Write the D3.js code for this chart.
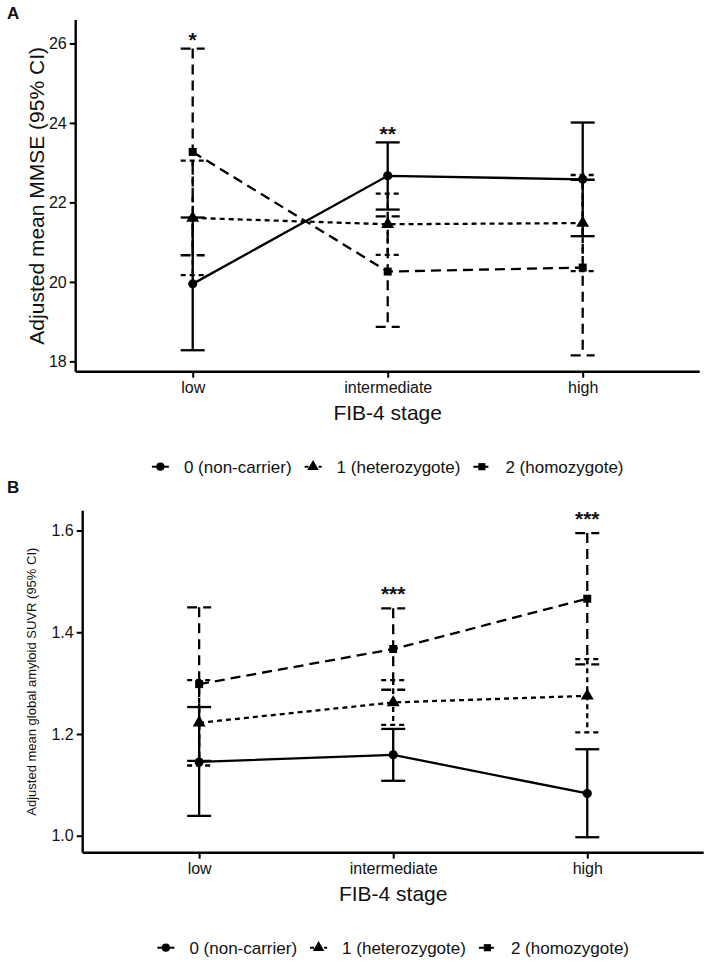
<!DOCTYPE html>
<html>
<head>
<meta charset="utf-8">
<script src="https://cdn.jsdelivr.net/npm/d3@7"></script>
<style>
  body { margin: 0; background: #fff; }
  text { font-family: "Liberation Sans", Arial, sans-serif; fill: #111; }
</style>
</head>
<body>
<script>
const STAGES = ["low", "intermediate", "high"];
const GROUPS = ["0 (non-carrier)", "1 (heterozygote)", "2 (homozygote)"];

// [mean, lower CI, upper CI] per FIB-4 stage
const MMSE_NONCARRIER = [[19.95, 18.28, 21.62], [22.67, 21.82, 23.51], [22.58, 21.15, 24.01]];
const MMSE_HETERO = [[21.61, 20.17, 23.05], [21.45, 20.68, 22.22], [21.48, 20.27, 22.69]];
const MMSE_HOMO = [[23.27, 20.67, 25.87], [20.26, 18.87, 21.65], [20.36, 18.15, 22.57]];
const MMSE_STARS = ["*", "**", ""];
const MMSE_TICKS = [18, 20, 22, 24, 26];

const SUVR_NONCARRIER = [[1.145, 1.039, 1.253], [1.159, 1.108, 1.210], [1.083, 0.997, 1.170]];
const SUVR_HETERO = [[1.222, 1.138, 1.306], [1.262, 1.218, 1.306], [1.275, 1.203, 1.347]];
const SUVR_HOMO = [[1.298, 1.147, 1.449], [1.367, 1.287, 1.447], [1.466, 1.337, 1.595]];
const SUVR_STARS = ["", "***", "***"];
const SUVR_TICKS = [1.0, 1.2, 1.4, 1.6];

// line style per genotype group
const DASH = [null, "5,4", "10,6"];
const SHAPES = [d3.symbolCircle, d3.symbolTriangle, d3.symbolSquare];
const SHAPE_SIZE = [66, 72, 64];

const svg = d3.select("body").append("svg")
    .attr("width", 708).attr("height", 962);

function drawPanel(cfg) {
    const g = svg.append("g");
    const x = d3.scalePoint().domain(STAGES).range([cfg.left, cfg.right]).padding(0.6);
    const y = d3.scaleLinear().domain(cfg.yDomain).range([cfg.bottom, cfg.top]);
    const cap = 12;

    // panel letter
    g.append("text")
        .attr("x", 7).attr("y", cfg.letterY)
        .attr("font-size", 17).attr("font-weight", "bold")
        .text(cfg.letter);

    // lines
    const line = d3.line().x((d, i) => x(STAGES[i])).y(d => y(d[0]));
    cfg.series.forEach((s, k) => {
        g.append("path")
            .datum(s)
            .attr("fill", "none")
            .attr("stroke", "#000")
            .attr("stroke-width", 2.3)
            .attr("stroke-dasharray", DASH[k])
            .attr("d", line);
    });

    // error bars
    cfg.series.forEach((s, k) => {
        s.forEach((d, i) => {
            const cx = x(STAGES[i]);
            const segs = [
                [cx - cap, y(d[2]), cx + cap, y(d[2])],
                [cx, y(d[2]), cx, y(d[1])],
                [cx - cap, y(d[1]), cx + cap, y(d[1])],
            ];
            segs.forEach(p => {
                g.append("line")
                    .attr("x1", p[0]).attr("y1", p[1])
                    .attr("x2", p[2]).attr("y2", p[3])
                    .attr("stroke", "#000")
                    .attr("stroke-width", 2.3)
                    .attr("stroke-dasharray", DASH[k]);
            });
        });
    });

    // points
    cfg.series.forEach((s, k) => {
        g.selectAll(null).data(s).join("path")
            .attr("transform", (d, i) => `translate(${x(STAGES[i])},${y(d[0])})`)
            .attr("d", d3.symbol(SHAPES[k], SHAPE_SIZE[k]))
            .attr("fill", "#000");
    });

    // significance stars
    cfg.stars.forEach((st, i) => {
        if (!st) return;
        const top = d3.max(cfg.series, s => s[i][2]);
        g.append("text")
            .attr("x", x(STAGES[i])).attr("y", y(top) - cfg.starGap + 12)
            .attr("text-anchor", "middle")
            .attr("font-size", 21).attr("font-weight", "bold")
            .text(st);
    });

    // axes
    const yAxis = g.append("g")
        .attr("transform", `translate(${cfg.left},0)`)
        .call(d3.axisLeft(y).tickValues(cfg.ticks).tickSize(6).tickPadding(3)
            .tickFormat(cfg.fmt).tickSizeOuter(0));
    const xAxis = g.append("g")
        .attr("transform", `translate(0,${cfg.bottom})`)
        .call(d3.axisBottom(x).tickSize(6).tickPadding(4).tickSizeOuter(0));
    [yAxis, xAxis].forEach(a => {
        a.select(".domain").attr("stroke", "#000").attr("stroke-width", 2.4);
        a.selectAll(".tick line").attr("stroke", "#000").attr("stroke-width", 2);
        a.selectAll(".tick text")
            .attr("font-family", "Liberation Sans, Arial, sans-serif")
            .attr("font-size", 16).attr("fill", "#111");
    });
    // keep axis line spanning the full panel
    yAxis.select(".domain").attr("d", `M0,${cfg.bottom}V${cfg.top}`);
    xAxis.select(".domain").attr("d", `M${cfg.left},0H${cfg.right}`);

    // axis titles
    g.append("text")
        .attr("x", (cfg.left + cfg.right) / 2).attr("y", cfg.bottom + 48)
        .attr("text-anchor", "middle")
        .attr("font-size", 21)
        .text("FIB-4 stage");
    g.append("text")
        .attr("transform", `translate(${cfg.yTitleX},${(cfg.top + cfg.bottom) / 2}) rotate(-90)`)
        .attr("text-anchor", "middle")
        .attr("font-size", cfg.yTitleSize)
        .text(cfg.yTitle);

    // legend
    const leg = g.append("g");
    let cursor = 0;
    GROUPS.forEach((name, k) => {
        const item = leg.append("g").attr("transform", `translate(${cursor},0)`);
        item.append("line")
            .attr("x1", 0).attr("x2", 17).attr("y1", 0).attr("y2", 0)
            .attr("stroke", "#000").attr("stroke-width", 2)
            .attr("stroke-dasharray", k === 0 ? null : (k === 1 ? "4,3" : "6,3"));
        item.append("path")
            .attr("transform", "translate(8.5,0)")
            .attr("d", d3.symbol(SHAPES[k], SHAPE_SIZE[k] * 0.8))
            .attr("fill", "#000");
        const t = item.append("text")
            .attr("x", 32).attr("y", 6)
            .attr("font-size", 17)
            .text(name);
        cursor += 32 + t.node().getComputedTextLength() + 13;
    });
    const legW = cursor - 13;
    leg.attr("transform", `translate(${(cfg.left + cfg.right) / 2 - legW / 2},${cfg.bottom + 95})`);
}

drawPanel({
    letter: "A", letterY: 19,
    left: 75.7, right: 699.7, top: 20, bottom: 371.7,
    yDomain: [17.74, 26.59],
    ticks: MMSE_TICKS, fmt: d3.format("d"),
    series: [MMSE_NONCARRIER, MMSE_HETERO, MMSE_HOMO],
    stars: MMSE_STARS, starGap: 13.5,
    yTitle: "Adjusted mean MMSE (95% CI)", yTitleX: 44, yTitleSize: 21,
});

drawPanel({
    letter: "B", letterY: 493,
    left: 82.7, right: 703.7, top: 510.7, bottom: 852.7,
    yDomain: [0.9666, 1.639],
    ticks: SUVR_TICKS, fmt: d3.format(".1f"),
    series: [SUVR_NONCARRIER, SUVR_HETERO, SUVR_HOMO],
    stars: SUVR_STARS, starGap: 19,
    yTitle: "Adjusted mean global amyloid SUVR (95% CI)", yTitleX: 36, yTitleSize: 13,
});
</script>
</body>
</html>
